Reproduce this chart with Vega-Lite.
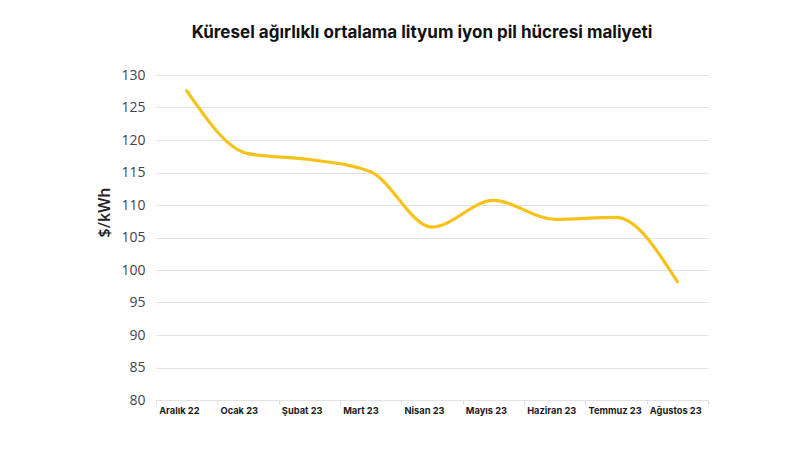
{
  "$schema": "https://vega.github.io/schema/vega-lite/v6.json",
  "width": 552,
  "height": 325,
  "autosize": {"type": "none"},
  "padding": {"left": 156, "top": 75, "right": 92, "bottom": 50},
  "background": "white",
  "title": {
    "text": "Küresel ağırlıklı ortalama lityum iyon pil hücresi maliyeti",
    "font": "Inter",
    "fontSize": 17,
    "fontWeight": "bold",
    "color": "#111111",
    "anchor": "middle",
    "baseline": "alphabetic",
    "offset": 13,
    "dx": -10
  },
  "data": {
    "values": [
      {"ay": "Aralık 22", "maliyet": 127.6},
      {"ay": "Ocak 23", "maliyet": 117.9},
      {"ay": "Şubat 23", "maliyet": 117.0},
      {"ay": "Mart 23", "maliyet": 115.1},
      {"ay": "Nisan 23", "maliyet": 106.6},
      {"ay": "Mayıs 23", "maliyet": 110.7},
      {"ay": "Haziran 23", "maliyet": 107.8},
      {"ay": "Temmuz 23", "maliyet": 108.1},
      {"ay": "Ağustos 23", "maliyet": 98.2}
    ]
  },
  "mark": {
    "type": "line",
    "interpolate": "monotone",
    "color": "#F6C21A",
    "strokeWidth": 3.2,
    "strokeCap": "round"
  },
  "encoding": {
    "x": {
      "field": "ay",
      "type": "nominal",
      "sort": null,
      "scale": {"type": "band", "paddingInner": 0, "paddingOuter": 0},
      "axis": {
        "title": null,
        "labelAngle": 0,
        "labelFont": "Inter",
        "labelFontSize": 9.3,
        "labelFontWeight": "bold",
        "labelColor": "#1a1a1a",
        "labelAlign": "left",
        "labelOffset": -28,
        "labelPadding": 2,
        "tickBand": "extent",
        "ticks": true,
        "tickSize": 4,
        "tickColor": "#dddddd",
        "domain": false,
        "grid": false
      }
    },
    "y": {
      "field": "maliyet",
      "type": "quantitative",
      "scale": {"domain": [80, 130], "zero": false, "nice": false},
      "axis": {
        "title": "$/kWh",
        "titleFont": "Open Sans",
        "titleFontSize": 16,
        "titleFontWeight": 600,
        "titleColor": "#222222",
        "titleX": -52,
        "titleY": 137,
        "titleAngle": -90,
        "titleAlign": "center",
        "titleBaseline": "middle",
        "values": [80, 85, 90, 95, 100, 105, 110, 115, 120, 125, 130],
        "labelFont": "Open Sans",
        "labelFontSize": 14,
        "labelColor": "#444444",
        "labelPadding": 11,
        "ticks": false,
        "domain": false,
        "grid": true,
        "gridColor": "#e2e2e2",
        "gridWidth": 1
      }
    }
  },
  "config": {"view": {"stroke": null}}
}
